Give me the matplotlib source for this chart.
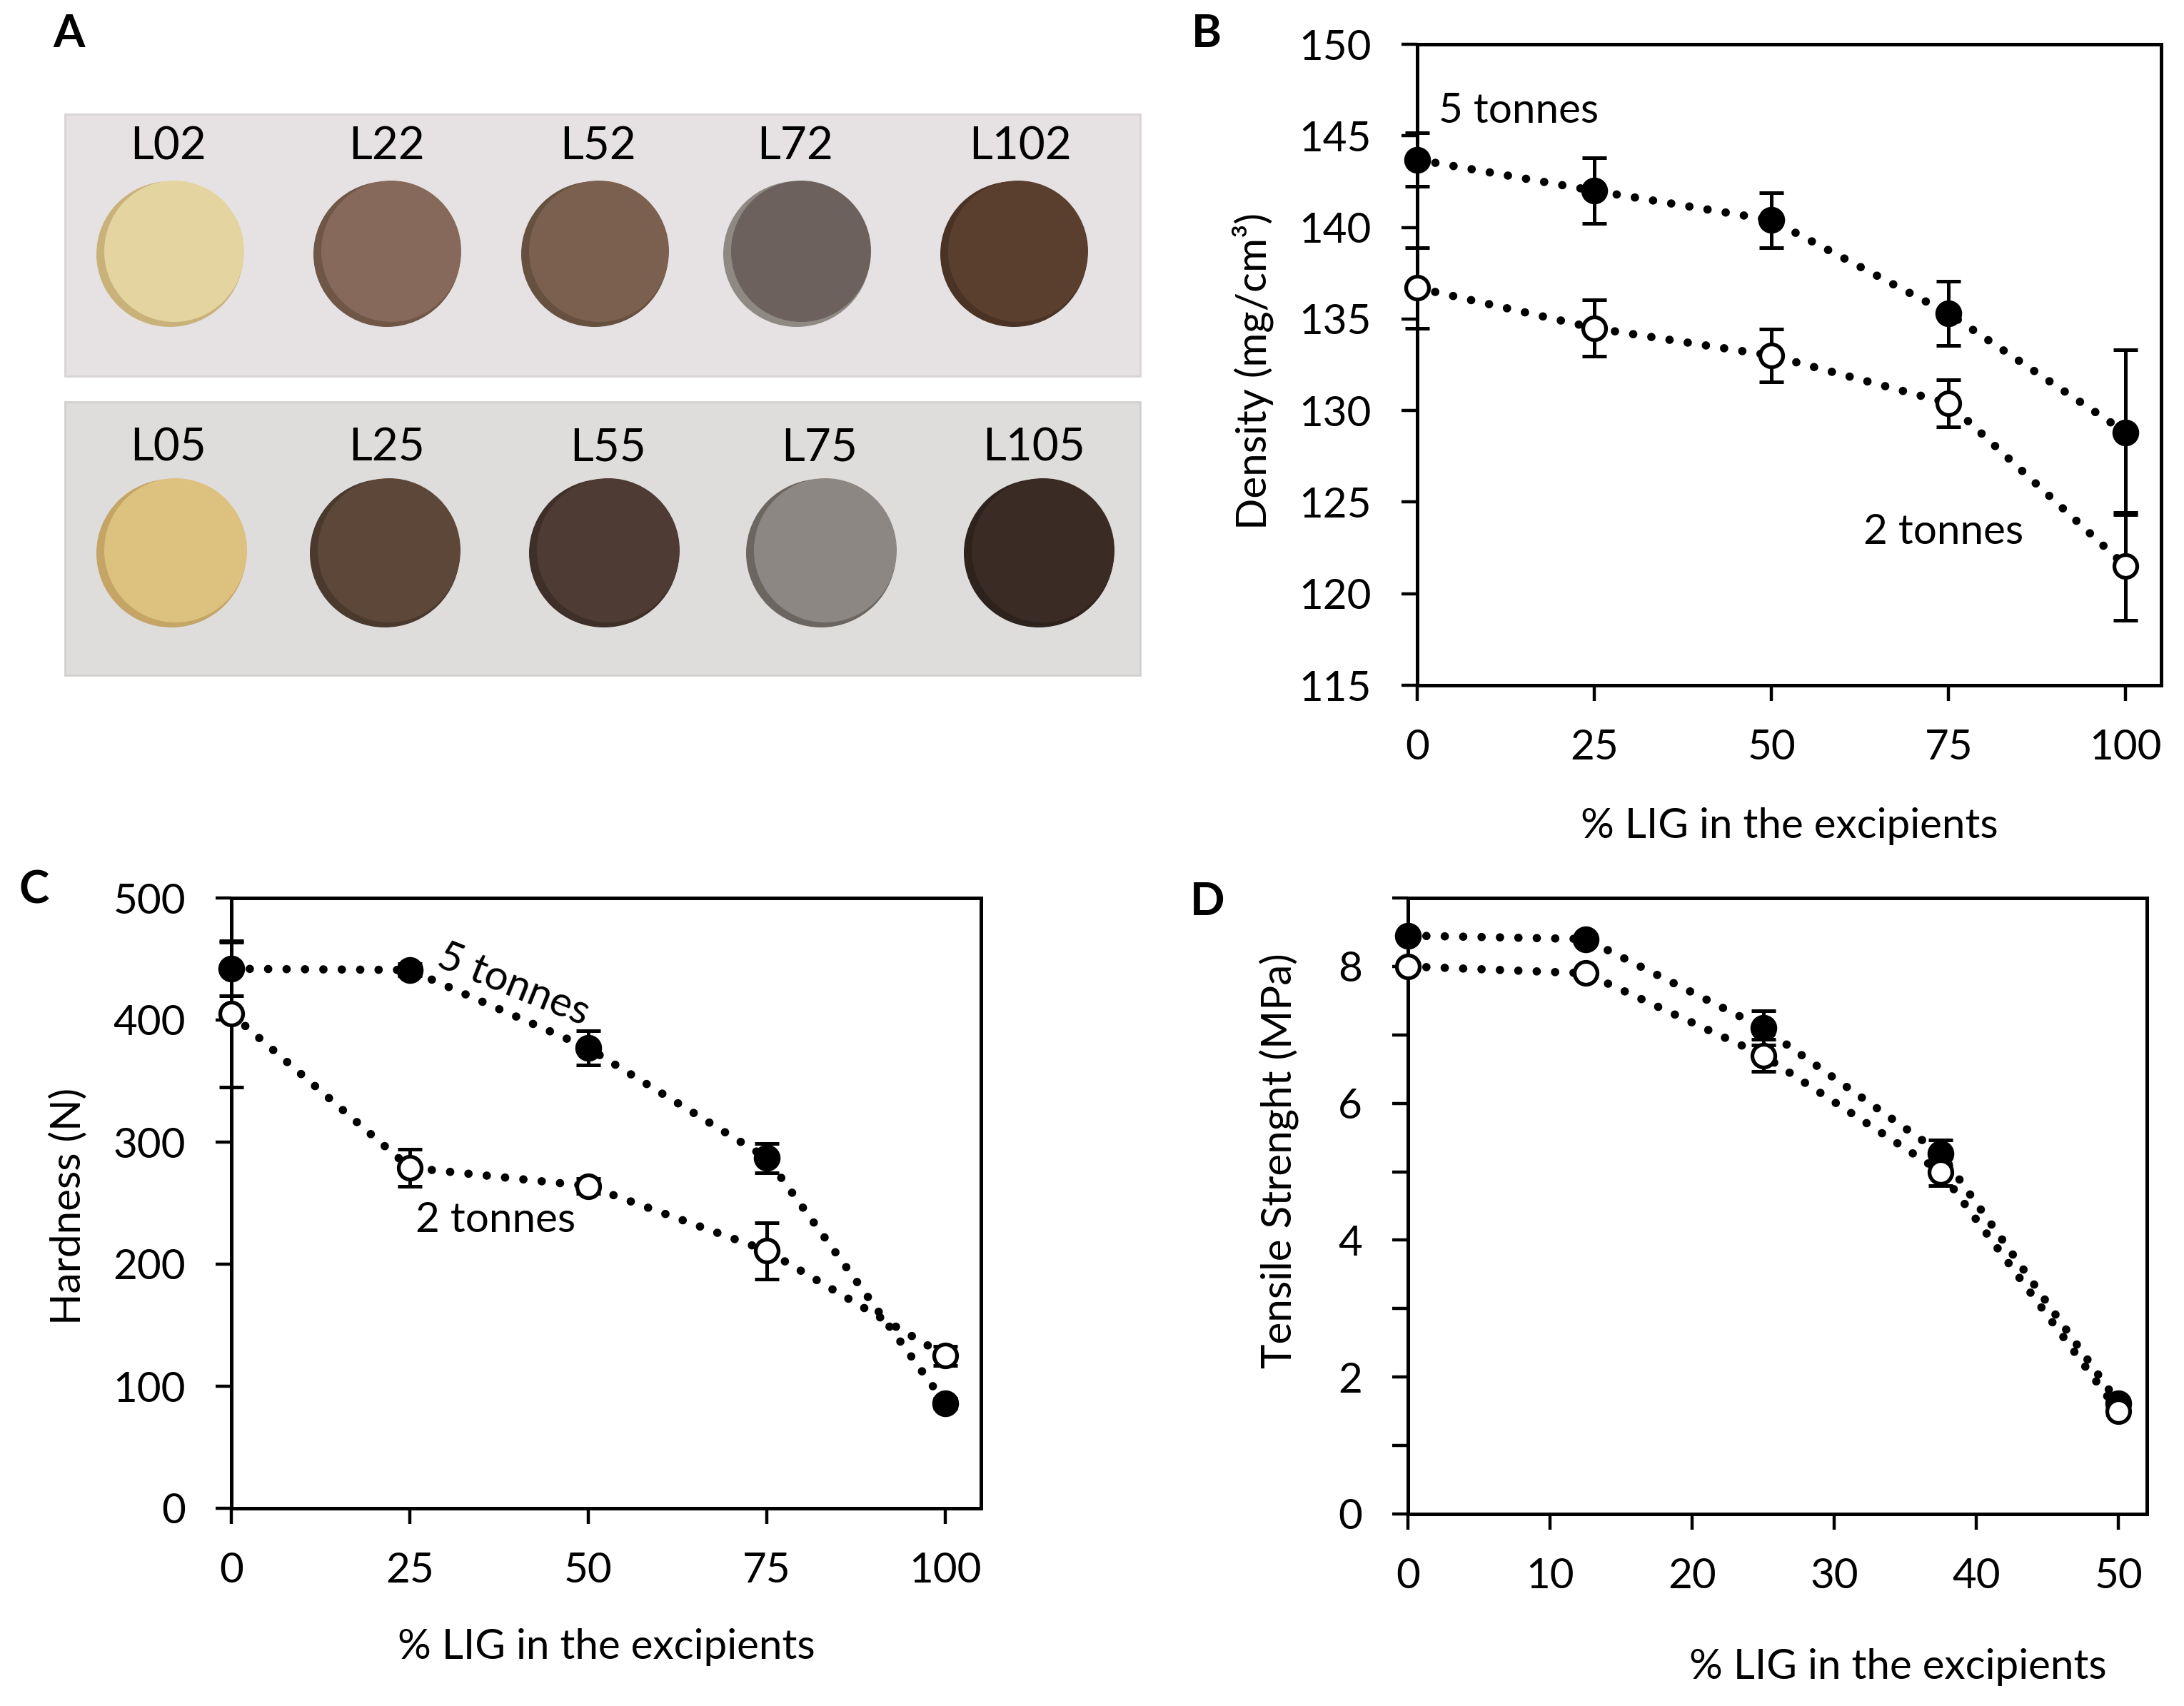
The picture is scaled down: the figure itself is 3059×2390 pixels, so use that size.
import matplotlib
matplotlib.use("Agg")
import matplotlib.pyplot as plt
from matplotlib.patches import Rectangle, Ellipse

# ---- data ----
pct_lig = [0, 25, 50, 75, 100]
pct_lig_d = [0, 12.5, 25, 37.5, 50]

density_5t = [143.7, 142.0, 140.4, 135.3, 128.8]
density_5t_err = [1.45, 1.8, 1.5, 1.75, 4.5]
density_2t = [136.7, 134.5, 133.0, 130.4, 121.5]
density_2t_err = [2.2, 1.55, 1.45, 1.3, 2.95]

hardness_5t = [442, 441, 377, 287, 86]
hardness_5t_err = [22, 5, 14, 12, 4]
hardness_2t = [405, 279, 264, 211, 125]
hardness_2t_err = [60, 15, 6, 23, 8]

tensile_5t = [8.45, 8.40, 7.10, 5.27, 1.62]
tensile_5t_err = [0.05, 0.05, 0.25, 0.19, 0.05]
tensile_2t = [8.00, 7.90, 6.70, 5.00, 1.50]
tensile_2t_err = [0.05, 0.05, 0.23, 0.20, 0.05]

tablet_labels_top = ["L02", "L22", "L52", "L72", "L102"]
tablet_labels_bottom = ["L05", "L25", "L55", "L75", "L105"]
tablet_colors_top = ["#e3d4a0", "#86695a", "#7b604f", "#6c615c", "#5a3f2f"]
tablet_colors_bottom = ["#dcc17f", "#5d4738", "#4d3b34", "#8c8782", "#3b2b25"]
tablet_sides_top = ["#c9b27a", "#6f5646", "#66503f", "#8f8983", "#4a3325"]
tablet_sides_bottom = ["#c4a566", "#4a392d", "#3e2f29", "#6c6661", "#2e221d"]

W, H = 3059, 2390
plt.rcParams['font.family'] = ['Lato', 'DejaVu Sans']
plt.rcParams['font.size'] = 21

fig = plt.figure(figsize=(W / 200, H / 200), dpi=200)


def px_axes(left, top, right, bottom):
    return fig.add_axes([left / W, 1 - bottom / H, (right - left) / W, (bottom - top) / H])


def px_text(x, y, s, **kw):
    fig.text(x / W, 1 - y / H, s, **kw)


def style_axes(ax):
    for sp in ax.spines.values():
        sp.set_linewidth(1.8)
    ax.tick_params(direction='out', length=8, width=1.6, labelsize=21)
    ax.tick_params(axis='y', pad=15)
    ax.tick_params(axis='x', pad=14)


def draw_series(ax, x, y, err, filled):
    ax.plot(x, y, color='black', lw=4.2, linestyle=(0, (0.01, 2.2)),
            dash_capstyle='round', zorder=2)
    ax.errorbar(x, y, yerr=err, fmt='none', ecolor='black', elinewidth=1.8,
                capsize=6, capthick=1.8, zorder=3, clip_on=False)
    if filled:
        ax.plot(x, y, 'o', ms=12.5, mfc='black', mec='black', mew=1, ls='none',
                zorder=4, clip_on=False)
    else:
        ax.plot(x, y, 'o', ms=11.5, mfc='white', mec='black', mew=1.9, ls='none',
                zorder=5, clip_on=False)


# ---- panel A: tablet photo ----
axA = px_axes(80, 150, 1610, 960)
axA.set_xlim(80, 1610)
axA.set_ylim(960, 150)
axA.axis('off')
axA.add_patch(Rectangle((91, 160), 1506, 367, fc='#e6e2e3', ec='#d8d4d4', lw=1))
axA.add_patch(Rectangle((91, 563), 1506, 383, fc='#dfdcdc', ec='#d2cfcf', lw=1))

top_x = [241, 545, 836, 1119, 1423]
bottom_x = [243, 542, 849, 1153, 1458]
top_lab_x = [235, 542, 838, 1114, 1429]
bottom_lab_x = [235, 542, 852, 1148, 1448]
for i in range(5):
    for cx, cy, r, face, side in [(top_x[i], 353, 102, tablet_colors_top[i], tablet_sides_top[i]),
                                  (bottom_x[i], 772, 104, tablet_colors_bottom[i], tablet_sides_bottom[i])]:
        axA.add_patch(Ellipse((cx - 3, cy + 3), 2 * r + 2, 2 * r, fc=side, ec='none'))
        axA.add_patch(Ellipse((cx + 3, cy - 1), 2 * r - 8, 2 * r - 6, fc=face, ec='none'))
    axA.text(top_lab_x[i], 205, tablet_labels_top[i], ha='center', va='center', fontsize=23)
    axA.text(bottom_lab_x[i], 628, tablet_labels_bottom[i], ha='center', va='center', fontsize=23)

# ---- panel B: density ----
axB = px_axes(1985, 62, 3027, 960)
draw_series(axB, pct_lig, density_5t, density_5t_err, True)
draw_series(axB, pct_lig, density_2t, density_2t_err, False)
axB.set_xlim(0, 105)
axB.set_ylim(115, 150)
axB.set_xticks(pct_lig)
axB.set_yticks(range(115, 151, 5))
style_axes(axB)
axB.text(3, 145.7, "5 tonnes", fontsize=21, va='baseline')
axB.text(63, 122.7, "2 tonnes", fontsize=21, va='baseline')
px_text(2506, 1157, "% LIG in the excipients", ha='center', va='center', fontsize=21)
px_text(1755, 520, "Density (mg/cm³)", ha='center', va='center', rotation=90, fontsize=21)

# ---- panel C: hardness ----
axC = px_axes(324, 1258, 1374, 2113)
draw_series(axC, pct_lig, hardness_5t, hardness_5t_err, True)
draw_series(axC, pct_lig, hardness_2t, hardness_2t_err, False)
axC.set_xlim(0, 105)
axC.set_ylim(0, 500)
axC.set_xticks(pct_lig)
axC.set_yticks(range(0, 501, 100))
style_axes(axC)
axC.text(39.5, 429, "5 tonnes", fontsize=21, ha='center', va='center',
         rotation=-22, rotation_mode='anchor')
axC.text(37, 236, "2 tonnes", fontsize=21, ha='center', va='center')
px_text(849, 2308, "% LIG in the excipients", ha='center', va='center', fontsize=21)
px_text(96, 1690, "Hardness (N)", ha='center', va='center', rotation=90, fontsize=21)

# ---- panel D: tensile strength ----
axD = px_axes(1972, 1258, 3007, 2121)
draw_series(axD, pct_lig_d, tensile_5t, tensile_5t_err, True)
draw_series(axD, pct_lig_d, tensile_2t, tensile_2t_err, False)
axD.set_xlim(0, 52)
axD.set_ylim(0, 9)
axD.set_xticks(range(0, 51, 10))
axD.set_yticks(range(0, 10))
axD.set_yticklabels([str(v) if v % 2 == 0 else "" for v in range(0, 10)])
style_axes(axD)
px_text(2658, 2335, "% LIG in the excipients", ha='center', va='center', fontsize=21)
px_text(1791, 1626, "Tensile Strenght (MPa)", ha='center', va='center', rotation=90, fontsize=21)

# ---- panel letters ----
for letter, (x, y) in {"A": (97, 47), "B": (1690, 47), "C": (48, 1247), "D": (1691, 1263)}.items():
    px_text(x, y, letter, ha='center', va='center', fontsize=23, fontweight='bold')

fig.savefig("out.png", dpi=200)
